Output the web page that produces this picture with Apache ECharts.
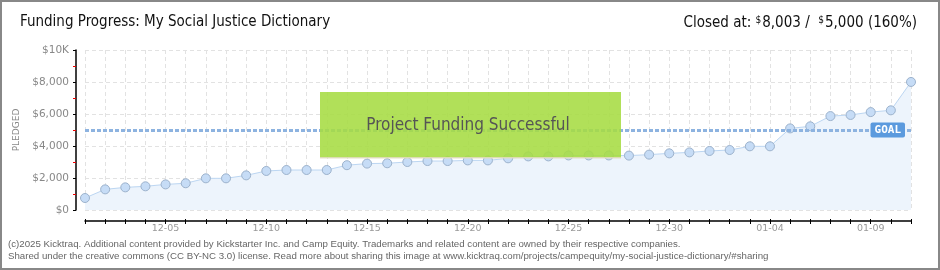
<!DOCTYPE html>
<html>
<head>
<meta charset="utf-8">
<script src="https://cdn.jsdelivr.net/npm/echarts@6/dist/echarts.min.js"></script>
<style>
  html, body { margin: 0; padding: 0; background: #fff; }
  #chart { width: 940px; height: 270px; }
</style>
</head>
<body>
<div id="chart"></div>
<script>
// Daily pledge totals for the campaign (USD)
const dates = [
  '12-01','12-02','12-03','12-04','12-05','12-06','12-07','12-08','12-09','12-10',
  '12-11','12-12','12-13','12-14','12-15','12-16','12-17','12-18','12-19','12-20',
  '12-21','12-22','12-23','12-24','12-25','12-26','12-27','12-28','12-29','12-30',
  '12-31','01-01','01-02','01-03','01-04','01-05','01-06','01-07','01-08','01-09',
  '01-10','01-11'
];
const pledged = [
  750, 1290, 1415, 1480, 1600, 1670, 1980, 1980, 2165, 2440,
  2500, 2500, 2500, 2800, 2900, 2920, 3000, 3060, 3060, 3100,
  3100, 3230, 3350, 3350, 3410, 3410, 3410, 3400, 3460, 3540,
  3600, 3690, 3750, 3980, 3980, 5100, 5230, 5870, 5940, 6120,
  6230, 8003
];
const goal = 5000;
const yTicks = [0, 2000, 4000, 6000, 8000, 10000];
const yTickLabels = ['$0', '$2,000', '$4,000', '$6,000', '$8,000', '$10K'];

const TITLE_FONT = '"Liberation Sans Narrow", "DejaVu Sans Condensed", sans-serif';
const chart = echarts.init(document.getElementById('chart'));

chart.setOption({
  animation: false,
  backgroundColor: '#fff',
  grid: { left: 85, right: 29, top: 50, bottom: 60 },
  xAxis: [
    {
      type: 'category',
      data: dates,
      boundaryGap: false,
      offset: 11,
      axisLine: { onZero: false, lineStyle: { color: '#000', width: 1.5 } },
      axisTick: { show: true, interval: 0, length: 3, lineStyle: { color: '#000' } },
      axisLabel: {
        interval: (i) => i % 5 === 4,
        color: '#999', fontSize: 9.5, margin: 3,
        fontFamily: '"DejaVu Sans", sans-serif'
      },
      splitLine: {
        show: true, interval: 0,
        lineStyle: { color: '#e2e2e2', type: [4, 3], width: 1 }
      }
    },
    {
      // upper half of the crossing ticks
      type: 'category',
      data: dates,
      boundaryGap: false,
      position: 'bottom',
      offset: 11,
      axisLine: { show: false, onZero: false },
      axisTick: { show: true, inside: true, interval: 0, length: 2, lineStyle: { color: '#000' } },
      axisLabel: { show: false },
      splitLine: { show: false }
    }
  ],
  yAxis: {
    type: 'value',
    min: yTicks[0],
    max: yTicks[yTicks.length - 1],
    interval: yTicks[1] - yTicks[0],
    offset: 9,
    name: 'PLEDGED',
    nameLocation: 'middle',
    nameGap: 46,
    nameRotate: 90,
    nameTextStyle: { color: '#888', fontSize: 9, fontFamily: '"DejaVu Sans", sans-serif' },
    axisLine: { show: true, lineStyle: { color: '#000', width: 1.5 } },
    axisTick: { show: true, length: 3, lineStyle: { color: '#000' } },
    minorTick: { show: true, splitNumber: 2, length: 3, lineStyle: { color: '#e00', width: 1 } },
    axisLabel: {
      color: '#888', fontSize: 10.5, margin: 7,
      fontFamily: '"DejaVu Sans", sans-serif',
      formatter: (v) => yTickLabels[yTicks.indexOf(v)]
    },
    splitLine: { show: true, lineStyle: { color: '#e2e2e2', type: [4, 3], width: 1 } }
  },
  series: [{
    type: 'line',
    data: pledged,
    symbol: 'circle',
    symbolSize: 9,
    lineStyle: { color: '#bcd6f2', width: 1 },
    itemStyle: { color: '#c6dcf6', borderColor: '#9cb2cc', borderWidth: 1 },
    areaStyle: { color: '#edf4fc', opacity: 1 },
    z: 3,
    markLine: {
      silent: true,
      symbol: 'none',
      data: [{ yAxis: goal }],
      lineStyle: { color: '#8db3e0', width: 3, type: [4, 2] },
      label: {
        show: true,
        position: 'insideEnd',
        formatter: 'GOAL',
        distance: 6,
        color: '#fff',
        backgroundColor: '#5b9ade',
        borderRadius: 2,
        padding: [2, 4, 2, 4],
        fontSize: 11,
        fontWeight: 'bold',
        fontFamily: '"DejaVu Sans Mono", monospace'
      }
    }
  }],
  graphic: [
    // outer frame
    {
      type: 'rect', z: 100, silent: true,
      shape: { x: 1, y: 1, width: 938, height: 268 },
      style: { fill: 'none', stroke: '#888', lineWidth: 2 }
    },
    {
      type: 'text', left: 20, top: 15, z: 100,
      style: {
        text: 'Funding Progress: My Social Justice Dictionary',
        fill: '#111', font: '15px ' + TITLE_FONT
      }
    },
    {
      type: 'text', right: 23, top: 15, z: 100,
      style: {
        text: 'Closed at: {s|$}8,003 /  {s|$}5,000 (160%)',
        fill: '#111', font: '15px ' + TITLE_FONT,
        rich: {
          s: { fontSize: 10, fontFamily: TITLE_FONT, verticalAlign: 'top', padding: [0, 1, 6, 0], fill: '#111' }
        }
      }
    },
    // success banner
    {
      type: 'rect', z: 50, silent: true,
      shape: { x: 320, y: 92, width: 301, height: 66 },
      style: { fill: 'rgba(166,220,66,0.88)' }
    },
    {
      type: 'rect', z: 50, silent: true,
      shape: { x: 320, y: 157, width: 301, height: 1.5 },
      style: { fill: 'rgba(225,220,190,0.9)' }
    },
    {
      type: 'text', z: 51, x: 468, y: 126,
      style: {
        text: 'Project Funding Successful',
        fill: '#555', font: '17px ' + TITLE_FONT,
        align: 'center', verticalAlign: 'middle',
        textShadowColor: 'rgba(255,255,255,0.9)', textShadowOffsetX: 1, textShadowOffsetY: 1
      }
    },
    // footer
    {
      type: 'text', left: 8, top: 239, z: 100,
      style: {
        text: '(c)2025 Kicktraq. Additional content provided by Kickstarter Inc. and Camp Equity. Trademarks and related content are owned by their respective companies.',
        fill: '#666', font: '9.7px "Liberation Sans", Arial, sans-serif'
      }
    },
    {
      type: 'text', left: 8, top: 251, z: 100,
      style: {
        text: 'Shared under the creative commons (CC BY-NC 3.0) license. Read more about sharing this image at www.kicktraq.com/projects/campequity/my-social-justice-dictionary/#sharing',
        fill: '#666', font: '9.7px "Liberation Sans", Arial, sans-serif'
      }
    }
  ]
});
</script>
</body>
</html>
